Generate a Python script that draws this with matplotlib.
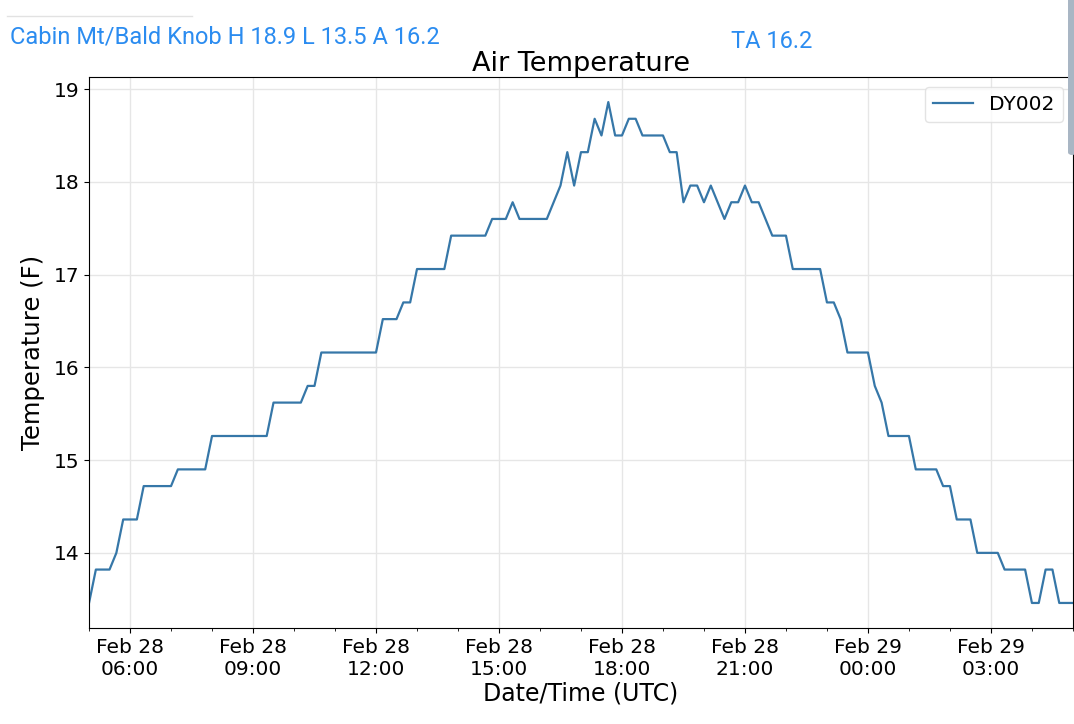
import pandas as pd
import matplotlib
matplotlib.use("Agg")
import matplotlib.pyplot as plt
import matplotlib.dates as mdates
from matplotlib.patches import FancyBboxPatch

# 10-minute readings, Feb 28 05:00 -> Feb 29 05:00 (UTC)
start_time = "2024-02-28 05:00"
temps_f = [
    13.46, 13.82, 13.82, 13.82, 14.00, 14.36, 14.36, 14.36,
    14.72, 14.72, 14.72, 14.72, 14.72,
    14.90, 14.90, 14.90, 14.90, 14.90,
    15.26, 15.26, 15.26, 15.26, 15.26, 15.26, 15.26, 15.26, 15.26,
    15.62, 15.62, 15.62, 15.62, 15.62,
    15.80, 15.80,
    16.16, 16.16, 16.16, 16.16, 16.16, 16.16, 16.16, 16.16, 16.16,
    16.52, 16.52, 16.52, 16.70, 16.70,
    17.06, 17.06, 17.06, 17.06, 17.06,
    17.42, 17.42, 17.42, 17.42, 17.42, 17.42,
    17.60, 17.60, 17.60, 17.78, 17.60, 17.60, 17.60, 17.60, 17.60,
    17.78, 17.96, 18.32, 17.96, 18.32, 18.32,
    18.68, 18.50, 18.86, 18.50, 18.50, 18.68, 18.68,
    18.50, 18.50, 18.50, 18.50, 18.32, 18.32,
    17.78, 17.96, 17.96, 17.78, 17.96, 17.78, 17.60, 17.78, 17.78,
    17.96, 17.78, 17.78, 17.60,
    17.42, 17.42, 17.42,
    17.06, 17.06, 17.06, 17.06, 17.06,
    16.70, 16.70, 16.52,
    16.16, 16.16, 16.16, 16.16,
    15.80, 15.62,
    15.26, 15.26, 15.26, 15.26,
    14.90, 14.90, 14.90, 14.90,
    14.72, 14.72,
    14.36, 14.36, 14.36,
    14.00, 14.00, 14.00, 14.00,
    13.82, 13.82, 13.82, 13.82,
    13.46, 13.46, 13.82, 13.82, 13.46, 13.46, 13.46,
]
station = "DY002"
header_left = "Cabin Mt/Bald Knob H 18.9 L 13.5 A 16.2"
header_right = "TA 16.2"

times = pd.date_range(start_time, periods=len(temps_f), freq="10min")

fig = plt.figure(figsize=(10.74, 7.24), dpi=100)
ax = fig.add_axes([0.0829, 0.1326, 0.9161, 0.761])

ax.plot(times, temps_f, color="#3677a8", linewidth=1.6, label=station)

ax.set_xlim(times[0], times[-1])
ax.xaxis.set_major_locator(mdates.HourLocator(byhour=range(0, 24, 3)))
ax.xaxis.set_minor_locator(mdates.HourLocator())
ax.xaxis.set_major_formatter(mdates.DateFormatter("%b %d\n%H:%M"))
ax.grid(True, which="major", color="#e6e6e6", linewidth=1)
ax.tick_params(labelsize=14.5)

ax.set_title("Air Temperature", fontsize=19.5, pad=4)
ax.set_xlabel("Date/Time (UTC)", fontsize=17, labelpad=2)
ax.set_ylabel("Temperature (F)", fontsize=17.5, labelpad=6)
ax.legend(loc="upper right", fontsize=14.5, edgecolor="#dddddd")

fig.text(10 / 1074, 1 - 37 / 724, header_left, color="#2b8cf0",
         fontsize=17, family=["Roboto", "DejaVu Sans"], va="center")
fig.text(731 / 1074, 1 - 42 / 724, header_right, color="#2b8cf0",
         fontsize=17, family=["Roboto", "DejaVu Sans"], va="center")
fig.add_artist(plt.Line2D([7 / 1074, 192 / 1074], [1 - 16 / 724, 1 - 16 / 724],
                          color="#e2e2e2", linewidth=1))
# scrollbar-like strip at the top right of the screenshot
fig.add_artist(FancyBboxPatch((1068 / 1074, 1 - 155 / 724), 8 / 1074, 160 / 724,
                              boxstyle="round,pad=0,rounding_size=0.004",
                              transform=fig.transFigure, facecolor="#a9b6c4",
                              edgecolor="none"))

fig.savefig("out.png", dpi=100)
plt.close(fig)
